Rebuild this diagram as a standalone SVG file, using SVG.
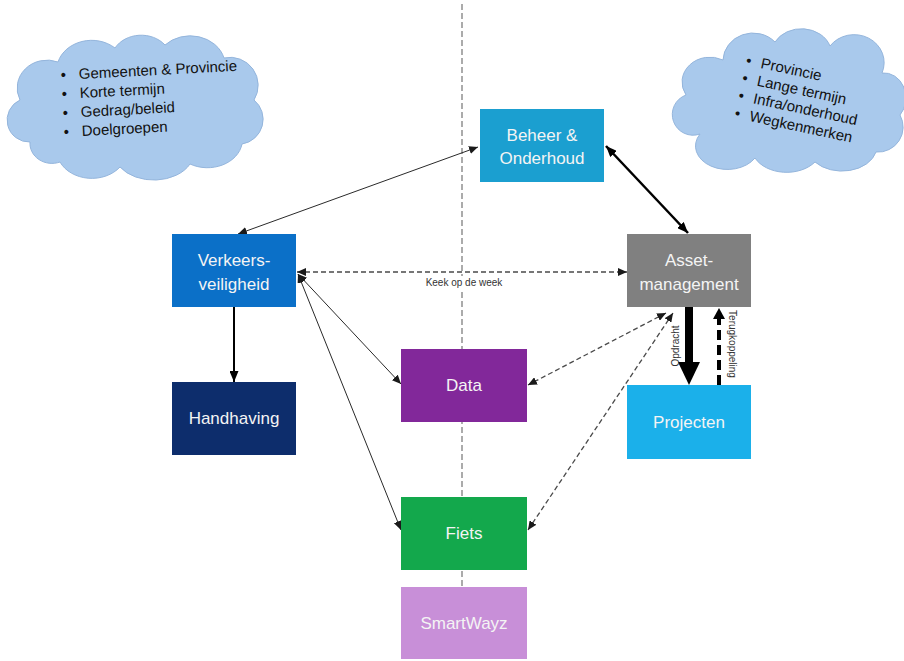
<svg xmlns="http://www.w3.org/2000/svg" width="904" height="661" viewBox="0 0 904 661">
<style>
.node text{font-family:"Liberation Sans",Arial,sans-serif;font-size:17px;fill:#f4f4f4;text-anchor:middle}
.cloud{fill:#a9c9ec;stroke:#94b5dc;stroke-width:1}
.ctext{font-family:"Liberation Sans",Arial,sans-serif;font-size:15px;fill:#111}
.thin{stroke:#2a2a2a;stroke-width:1;fill:none}
.dash{stroke:#4a4a4a;stroke-width:1.3;stroke-dasharray:5,3;fill:none}
.small{font-family:"Liberation Sans",Arial,sans-serif;font-size:10px;fill:#333}
</style>
<defs>
<marker id="ah" markerUnits="userSpaceOnUse" markerWidth="9" markerHeight="8" refX="9" refY="4" orient="auto-start-reverse" viewBox="0 0 9 8"><path d="M0,0 L9,4 L0,8 z" fill="#1a1a1a"/></marker>
<marker id="ahm" markerUnits="userSpaceOnUse" markerWidth="11" markerHeight="9" refX="11" refY="4.5" orient="auto-start-reverse" viewBox="0 0 11 9"><path d="M0,0 L11,4.5 L0,9 z" fill="#000"/></marker>
<marker id="big" markerUnits="userSpaceOnUse" markerWidth="23" markerHeight="22" refX="0" refY="11" orient="auto" viewBox="0 0 23 22"><path d="M0,0 L23,11 L0,22 z" fill="#000"/></marker>
<marker id="ter" markerUnits="userSpaceOnUse" markerWidth="11" markerHeight="12" refX="0" refY="6" orient="auto" viewBox="0 0 11 12"><path d="M0,0 L11,6 L0,12 z" fill="#000"/></marker>
</defs>
<rect width="904" height="661" fill="#fff"/>

<!-- center divider -->
<line x1="462" y1="4" x2="462" y2="661" stroke="#ababab" stroke-width="2" stroke-dasharray="6,3"/>

<!-- clouds -->
<g id="cloud-left">
<path class="cloud" d="M30,142 A22,22 0 0 1 20,100 A30,28 0 0 1 58,62 A35,30 0 0 1 115,48 A30,25 0 0 1 165,45 A35,30 0 0 1 224,58 A28,28 0 0 1 254,100 A25,25 0 0 1 242,144 A35,28 0 0 1 190,164 A40,28 0 0 1 120,167 A35,28 0 0 1 60,162 A22,20 0 0 1 30,142 Z"/>
<g transform="rotate(-3 80 78)">
<text class="ctext" x="61" y="79">•</text><text class="ctext" x="79" y="79">Gemeenten &amp; Provincie</text>
<text class="ctext" x="61" y="98">•</text><text class="ctext" x="79" y="98">Korte termijn</text>
<text class="ctext" x="61" y="117">•</text><text class="ctext" x="79" y="117">Gedrag/beleid</text>
<text class="ctext" x="61" y="136">•</text><text class="ctext" x="79" y="136">Doelgroepen</text>
</g>
</g>
<g id="cloud-right">
<path class="cloud" d="M700,134 A20,20 0 0 1 686,95 A28,25 0 0 1 723,60 A30,28 0 0 1 775,42 A30,25 0 0 1 830,46 A30,28 0 0 1 882,73 A22,25 0 0 1 900,115 A25,25 0 0 1 876,152 A35,25 0 0 1 815,162 A35,25 0 0 1 755,158 A30,22 0 0 1 700,134 Z"/>
<g transform="rotate(12 760 68)">
<text class="ctext" x="745" y="68">•</text><text class="ctext" x="760" y="68">Provincie</text>
<text class="ctext" x="745" y="86">•</text><text class="ctext" x="760" y="86">Lange termijn</text>
<text class="ctext" x="745" y="104">•</text><text class="ctext" x="760" y="104">Infra/onderhoud</text>
<text class="ctext" x="745" y="122">•</text><text class="ctext" x="760" y="122">Wegkenmerken</text>
</g>
</g>

<!-- connectors -->
<g id="connectors">
<line class="thin" x1="478" y1="147" x2="238" y2="234" marker-start="url(#ah)" marker-end="url(#ah)"/>
<line x1="606" y1="146" x2="688" y2="233" stroke="#000" stroke-width="2.5" marker-start="url(#ahm)" marker-end="url(#ahm)"/>
<line x1="234" y1="307" x2="234" y2="382" stroke="#000" stroke-width="2" marker-end="url(#ahm)"/>
<line class="thin" x1="298" y1="274" x2="401" y2="384" marker-start="url(#ah)" marker-end="url(#ah)"/>
<line class="thin" x1="298" y1="274" x2="401" y2="530" marker-start="url(#ah)" marker-end="url(#ah)"/>
<line class="dash" x1="297" y1="272" x2="627" y2="272" marker-start="url(#ah)" marker-end="url(#ah)"/>
<rect x="415" y="276" width="96" height="13" fill="#fff"/>
<text class="small" x="464" y="286" text-anchor="middle">Keek op de week</text>
<line class="dash" x1="666" y1="313" x2="528" y2="385" marker-start="url(#ah)" marker-end="url(#ah)"/>
<line class="dash" x1="673" y1="313" x2="528" y2="530" marker-start="url(#ah)" marker-end="url(#ah)"/>
<line x1="689" y1="307" x2="689" y2="362" stroke="#000" stroke-width="8" marker-end="url(#big)"/>
<line x1="719" y1="385" x2="719" y2="319" stroke="#000" stroke-width="4" stroke-dasharray="10,5" marker-end="url(#ter)"/>
<text class="small" transform="translate(679 346) rotate(-90)" text-anchor="middle">Opdracht</text>
<text class="small" transform="translate(729 344) rotate(90)" text-anchor="middle">Terugkoppeling</text>
</g>

<!-- nodes -->
<g id="beheer" class="node"><rect x="480" y="109" width="124" height="73" fill="#1b9fd0"/><text x="542" y="141">Beheer &amp;</text><text x="542" y="164">Onderhoud</text></g>
<g id="verkeersveiligheid" class="node"><rect x="172" y="234" width="124" height="73" fill="#0b70c8"/><text x="234" y="266">Verkeers-</text><text x="234" y="290">veiligheid</text></g>
<g id="asset" class="node"><rect x="627" y="234" width="124" height="73" fill="#808080"/><text x="689" y="266">Asset-</text><text x="689" y="290">management</text></g>
<g id="handhaving" class="node"><rect x="172" y="382" width="124" height="73" fill="#0d2d6c"/><text x="234" y="424">Handhaving</text></g>
<g id="data" class="node"><rect x="401" y="349" width="126" height="73" fill="#82289a"/><text x="464" y="391">Data</text></g>
<g id="projecten" class="node"><rect x="627" y="385" width="124" height="74" fill="#1bb0ea"/><text x="689" y="428">Projecten</text></g>
<g id="fiets" class="node"><rect x="401" y="497" width="126" height="73" fill="#13a84c"/><text x="464" y="539">Fiets</text></g>
<g id="smartwayz" class="node"><rect x="401" y="587" width="126" height="72" fill="#c88fd8"/><text x="464" y="629">SmartWayz</text></g>
</svg>
